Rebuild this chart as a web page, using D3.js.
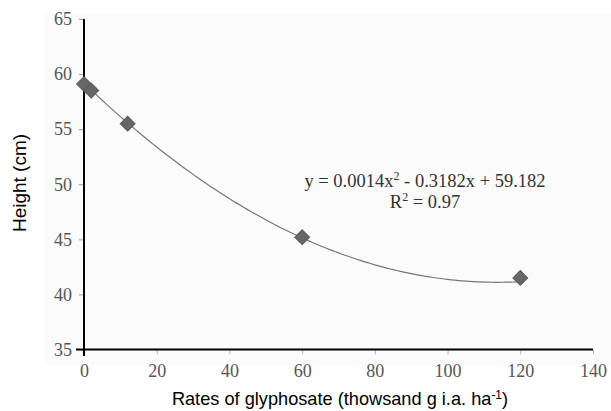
<!DOCTYPE html>
<html><head><meta charset="utf-8">
<script src="https://cdn.jsdelivr.net/npm/d3@7"></script>
<style>body{margin:0;background:#fff}svg{display:block}</style>
</head><body><svg id="c" width="611" height="411"></svg>
<script>
const rates = [0, 2, 12, 60, 120];
const heights = [59.1, 58.5, 55.5, 45.2, 41.5];
const xTicks = [0, 20, 40, 60, 80, 100, 120, 140];
const yTicks = [35, 40, 45, 50, 55, 60, 65];
const coef = [0.0014, -0.3182, 59.182];
const eqLines = ["y = 0.0014x", "R", "= 0.97"];

const svg = d3.select("#c");
const x = d3.scaleLinear().domain([0, 140]).range([84, 593]);
const y = d3.scaleLinear().domain([35, 65]).range([349.5, 19]);
const serif = "'Liberation Serif','DejaVu Serif',serif";
const sans = "'Liberation Sans',Arial,sans-serif";

svg.append("rect").attr("x", 45).attr("y", 13).attr("width", 566).attr("height", 352).attr("fill", "#fbfbfb");

// y axis
const ya = svg.append("g").attr("transform", "translate(84,0)")
  .call(d3.axisLeft(y).tickValues(yTicks).tickSize(5).tickPadding(7));
ya.select(".domain").remove();
ya.selectAll("line").attr("stroke", "#999");
ya.selectAll("text").attr("font-family", serif).attr("font-size", 18).attr("fill", "#555");

// x axis
const xa = svg.append("g").attr("transform", "translate(0,349.5)")
  .call(d3.axisBottom(x).tickValues(xTicks).tickSize(5).tickPadding(10));
xa.select(".domain").remove();
xa.selectAll("line").attr("stroke", "#bbb");
xa.selectAll("text").attr("font-family", serif).attr("font-size", 18).attr("fill", "#555");

svg.append("line").attr("x1", 76).attr("x2", x(140)).attr("y1", y(35)).attr("y2", y(35)).attr("stroke", "#000").attr("stroke-width", 2);
svg.append("line").attr("x1", 84).attr("x2", 84).attr("y1", y(65)).attr("y2", 356).attr("stroke", "#000").attr("stroke-width", 2);

// trendline
const f = t => coef[0]*t*t + coef[1]*t + coef[2];
const pts = d3.range(0, 120.01, 1).map(t => [x(t), y(f(t))]);
svg.append("path").attr("d", d3.line()(pts)).attr("fill", "none").attr("stroke", "#777").attr("stroke-width", 1.2);

// markers
svg.selectAll(".pt").data(rates).join("path").attr("class", "pt")
  .attr("d", d3.symbol().type(d3.symbolSquare).size(110)())
  .attr("transform", (d, i) => `translate(${x(d)},${y(heights[i])}) rotate(45)`)
  .attr("fill", "#666").attr("stroke", "#5a5a5a");

// equation
const eq = svg.append("text").attr("x", 425).attr("y", 187).attr("text-anchor", "middle")
  .attr("font-family", serif).attr("font-size", 18.5).attr("fill", "#333");
eq.append("tspan").text(eqLines[0]);
eq.append("tspan").attr("dy", -7).attr("font-size", 12).text("2");
eq.append("tspan").attr("dy", 7).text(" - 0.3182x + 59.182");
const r2 = svg.append("text").attr("x", 425).attr("y", 208).attr("text-anchor", "middle")
  .attr("font-family", serif).attr("font-size", 18.5).attr("fill", "#333");
r2.append("tspan").text(eqLines[1]);
r2.append("tspan").attr("dy", -7).attr("font-size", 12).text("2");
r2.append("tspan").attr("dy", 7).text(" " + eqLines[2]);

// axis titles
svg.append("text").attr("transform", "translate(26,183) rotate(-90)").attr("text-anchor", "middle")
  .attr("font-family", sans).attr("font-size", 19).attr("fill", "#000").text("Height (cm)");
const xt = svg.append("text").attr("x", 340).attr("y", 405).attr("text-anchor", "middle")
  .attr("font-family", sans).attr("font-size", 18.2).attr("fill", "#000");
xt.append("tspan").text("Rates of glyphosate (thowsand g i.a. ha");
xt.append("tspan").attr("dy", -6).attr("font-size", 12).text("-1");
xt.append("tspan").attr("dy", 6).text(")");
</script></body></html>
